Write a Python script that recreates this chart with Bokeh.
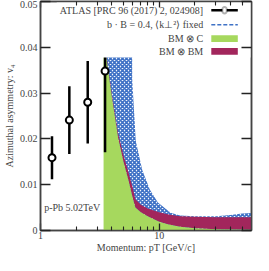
import numpy as np
from bokeh.plotting import figure
from bokeh.models import (Range1d, LogAxis, LinearAxis, FixedTicker,
                          CustomJSTickFormatter, Label, BoxAnnotation, Arrow, ColumnDataSource)
from bokeh.embed import file_html
from bokeh.resources import INLINE

# ---------------- data ----------------
# ATLAS p-Pb points
atlas_pt = [1.25, 1.75, 2.5, 3.5]
atlas_v4 = [0.0159, 0.0241, 0.0280, 0.0348]
atlas_err = [0.0047, 0.0074, 0.0090, 0.0177]

# BM (x) C  and  BM (x) BM bands (shared pT grid)
band_pt = [3.4, 4.0, 4.5, 5.0, 5.5, 6.0, 6.3, 7.0, 8.0, 10.0, 12.0, 15.0, 20.0, 30.0, 45.0, 60.0]
bmc_v4 = [0.0420, 0.0290, 0.0203, 0.0150, 0.0110, 0.0070, 0.0050, 0.0040, 0.0031, 0.0019,
          0.0013, 0.0008, 0.0005, 0.0003, 0.0002, 0.00015]
bmbm_v4 = [0.0425, 0.0297, 0.0213, 0.0165, 0.0128, 0.0092, 0.0068, 0.0056, 0.0048, 0.0040,
           0.0035, 0.0031, 0.0030, 0.0029, 0.0029, 0.0029]

# b.B = 0.4, <k^2> fixed band (upper edge)
bb_pt = [3.5, 5.9, 5.93, 6.35, 7.2, 8.36, 9.75, 12.5, 15.0, 20.0, 30.0, 40.0, 50.0, 60.0]
bb_v4 = [0.060, 0.060, 0.0330, 0.0196, 0.0132, 0.0089, 0.0061, 0.0039, 0.0033, 0.0031,
         0.0031, 0.0034, 0.0037, 0.0038]

x_major = [1, 10]
x_minor = [2, 3, 4, 5, 6, 7, 8, 9, 20, 30, 40, 50]
y_ticks = [0, 0.01, 0.02, 0.03, 0.04, 0.05]

GREEN = "#a6d85e"
MAGENTA = "#a2265c"
BLUE = "#3f72c6"
TXT = "#444444"
FONT = "Liberation Serif"

# ---------------- figure ----------------
p = figure(width=253, height=255, x_axis_type="log", output_backend="svg",
           toolbar_location=None, x_range=Range1d(1, 60), y_range=Range1d(0, 0.05),
           min_border_left=35, min_border_right=2, min_border_top=1, min_border_bottom=22)
p.grid.visible = False
p.outline_line_color = "#444444"
p.outline_line_width = 1.5
p.background_fill_color = "white"

# hatched band
p.varea(x=bb_pt, y1=[0] * len(bb_pt), y2=bb_v4, fill_alpha=0,
        hatch_pattern="diagonal_cross", hatch_color=BLUE, hatch_scale=4, hatch_weight=1.8)
# BM x BM band
p.varea(x=band_pt, y1=bmc_v4, y2=bmbm_v4, fill_color=MAGENTA)
# BM x C band
p.varea(x=band_pt, y1=[0] * len(band_pt), y2=bmc_v4, fill_color=GREEN)

# ATLAS points
src = ColumnDataSource(dict(x=atlas_pt, y=atlas_v4,
                            lo=[v - e for v, e in zip(atlas_v4, atlas_err)],
                            hi=[v + e for v, e in zip(atlas_v4, atlas_err)]))
p.segment(x0="x", y0="lo", x1="x", y1="hi", source=src, line_color="black", line_width=2.5)
p.scatter(x="x", y="y", source=src, marker="circle", size=7, fill_color="white",
          line_color="black", line_width=2)

# ---------------- axes ----------------
fmt_y = CustomJSTickFormatter(code="return tick == 0 ? '0' : tick.toFixed(2);")
fmt_x = CustomJSTickFormatter(code="return String(Math.round(tick));")

def style_axis(ax):
    ax.axis_line_color = "#444444"
    ax.axis_line_width = 1.5
    ax.major_tick_line_color = "#222222"
    ax.minor_tick_line_color = "#222222"
    ax.major_tick_line_width = 1.3
    ax.minor_tick_line_width = 1.1
    ax.major_tick_out = 0
    ax.minor_tick_out = 0
    ax.major_label_text_font = FONT
    ax.major_label_text_font_size = "10px"
    ax.major_label_text_color = TXT
    ax.axis_label_text_font = FONT
    ax.axis_label_text_font_style = "normal"
    ax.axis_label_text_font_size = "10px"
    ax.axis_label_text_color = TXT

xa = p.xaxis[0]
style_axis(xa)
xa.ticker = FixedTicker(ticks=x_major, minor_ticks=x_minor)
xa.formatter = fmt_x
xa.major_tick_in = 7
xa.minor_tick_in = 4
xa.major_label_standoff = 1
xa.axis_label = "Momentum: pT [GeV/c]"
xa.axis_label_standoff = 0

ya = p.yaxis[0]
style_axis(ya)
ya.ticker = FixedTicker(ticks=y_ticks)
ya.formatter = fmt_y
ya.major_tick_in = 10
ya.minor_tick_line_color = None
ya.major_label_standoff = 3
ya.axis_label = "Azimuthal asymmetry: v₄"
ya.axis_label_standoff = 2

top = LogAxis(ticker=FixedTicker(ticks=x_major, minor_ticks=x_minor))
style_axis(top)
top.major_tick_in = 6
top.minor_tick_in = 4
top.major_label_text_font_size = "1px"
top.major_label_text_color = None
top.major_label_standoff = 0
p.add_layout(top, "above")

right = LinearAxis(ticker=FixedTicker(ticks=y_ticks))
style_axis(right)
right.major_tick_in = 10
right.minor_tick_line_color = None
right.major_label_text_font_size = "1px"
right.major_label_text_color = None
right.major_label_standoff = 0
p.add_layout(right, "right")

# ---------------- legend (drawn by hand: labels left, swatches right) ----------------
p.add_layout(BoxAnnotation(left=1.37, right=60, bottom=0.0378, top=0.05,
                           fill_color="white", fill_alpha=1, line_color=None, level="glyph"))
rows_y = [0.0481, 0.0449, 0.0419, 0.0391]
labels = ["ATLAS [PRC 96 (2017) 2, 024908]", "b · B = 0.4, ⟨k⊥²⟩ fixed", "BM ⊗ C", "BM ⊗ BM"]
for ty, txt in zip(rows_y, labels):
    p.add_layout(Label(x=23.5, y=ty, text=txt, text_align="right", text_baseline="middle",
                       text_font=FONT, text_font_size="10px", text_color=TXT))
gx0, gx1 = 27.5, 46.0
# ATLAS swatch: line + open circle
p.add_layout(BoxAnnotation(left=gx0, right=gx1, bottom=rows_y[0] - 0.00027, top=rows_y[0] + 0.00027,
                           fill_color="black", fill_alpha=1, line_color=None))
p.add_layout(BoxAnnotation(left=34.1, right=37.1, bottom=rows_y[0] - 0.00070, top=rows_y[0] + 0.00070,
                           fill_color="white", fill_alpha=1, line_color="black", line_width=2,
                           border_radius=4))
# dashed line swatch
p.add_layout(Arrow(end=None, x_start=gx0, y_start=rows_y[1], x_end=gx1, y_end=rows_y[1],
                   line_color=BLUE, line_width=1.5, line_dash="4 2"))
# band swatches
p.add_layout(BoxAnnotation(left=gx0, right=gx1, bottom=rows_y[2] - 0.00075, top=rows_y[2] + 0.00075,
                           fill_color=GREEN, fill_alpha=1, line_color=None))
p.add_layout(BoxAnnotation(left=gx0, right=gx1, bottom=rows_y[3] - 0.00075, top=rows_y[3] + 0.00075,
                           fill_color=MAGENTA, fill_alpha=1, line_color=None))

p.add_layout(Label(x=1.075, y=0.0051, text="p-Pb 5.02TeV", text_baseline="middle",
                   text_font=FONT, text_font_size="10px", text_color=TXT))

open("out.html", "w").write(file_html(p, INLINE))
